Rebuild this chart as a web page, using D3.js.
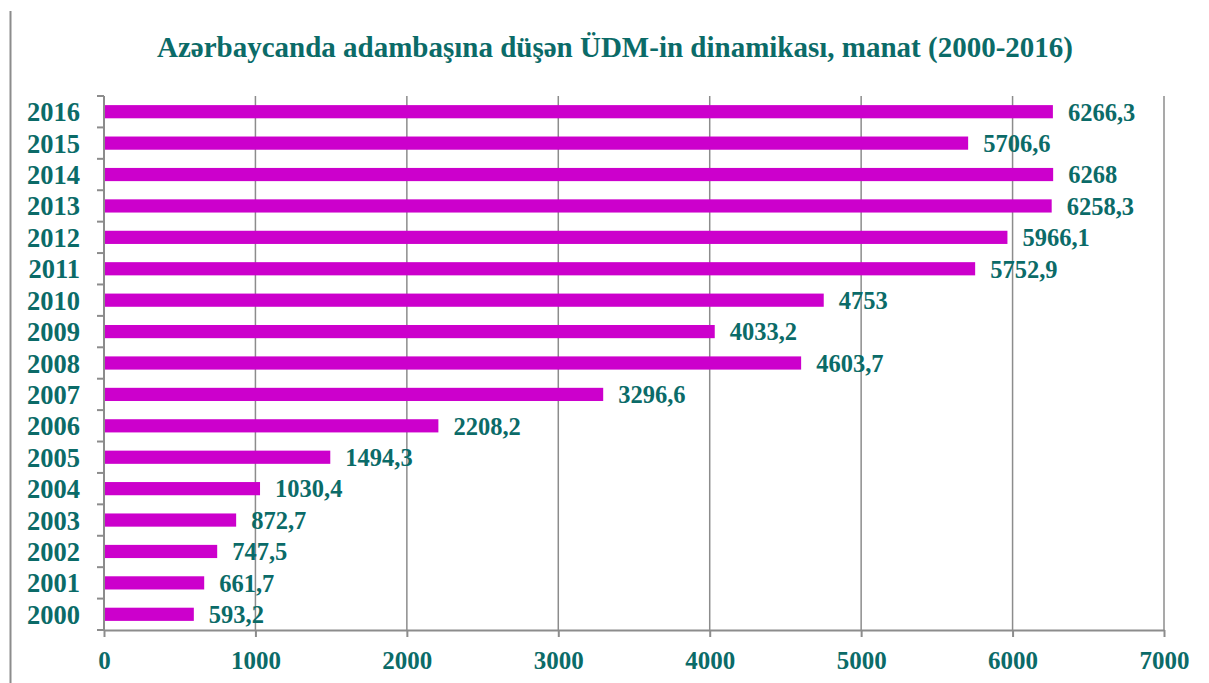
<!DOCTYPE html>
<html>
<head>
<meta charset="utf-8">
<script src="https://cdn.jsdelivr.net/npm/d3@7"></script>
<style>
  body { margin: 0; background: #fff; }
  svg { display: block; }
</style>
</head>
<body>
<svg id="chart"></svg>
<script>
(function () {
    const W = 1209;
    const H = 683;
    const margin = { top: 96, right: 45, bottom: 53, left: 104 };

    const years = ["2000", "2001", "2002", "2003", "2004", "2005", "2006", "2007", "2008",
                   "2009", "2010", "2011", "2012", "2013", "2014", "2015", "2016"];
    const gdpPerCapita = [593.2, 661.7, 747.5, 872.7, 1030.4, 1494.3, 2208.2, 3296.6, 4603.7,
                          4033.2, 4753, 5752.9, 5966.1, 6258.3, 6268, 5706.6, 6266.3];
    const xTicks = [0, 1000, 2000, 3000, 4000, 5000, 6000, 7000];
    const title = "Azərbaycanda adambaşına düşən ÜDM-in dinamikası, manat (2000-2016)";

    const teal = "#0b6b68";
    const grey = "#8c8c8c";
    const serif = "'Liberation Serif', 'Times New Roman', serif";

    const data = years.map((y, i) => ({ year: y, value: gdpPerCapita[i] }));

    const svg = d3.select("#chart")
        .attr("width", W)
        .attr("height", H);

    // outer frame edge on the left
    svg.append("line")
        .attr("x1", 10.5).attr("x2", 10.5)
        .attr("y1", 11).attr("y2", H)
        .attr("stroke", grey)
        .attr("stroke-width", 2);

    const x = d3.scaleLinear()
        .domain([0, 7000])
        .range([margin.left, W - margin.right]);

    const y = d3.scaleBand()
        .domain(years.slice().reverse())
        .range([margin.top, H - margin.bottom])
        .paddingInner(0.58)
        .paddingOuter(0.29);

    // vertical gridlines
    svg.append("g")
        .selectAll("line")
        .data(xTicks.slice(1))
        .enter().append("line")
        .attr("x1", d => x(d)).attr("x2", d => x(d))
        .attr("y1", margin.top).attr("y2", H - margin.bottom)
        .attr("stroke", grey)
        .attr("stroke-width", 1.5);

    // bars
    svg.append("g")
        .selectAll("rect")
        .data(data)
        .enter().append("rect")
        .attr("x", x(0))
        .attr("y", d => y(d.year))
        .attr("width", d => x(d.value) - x(0))
        .attr("height", y.bandwidth())
        .attr("fill", "#cc00cc");

    // value labels
    svg.append("g")
        .selectAll("text")
        .data(data)
        .enter().append("text")
        .attr("x", d => x(d.value) + 15)
        .attr("y", d => y(d.year) + y.bandwidth() / 2)
        .attr("dy", "0.36em")
        .attr("font-family", serif)
        .attr("font-weight", "bold")
        .attr("font-size", 24.5)
        .attr("fill", teal)
        .text(d => String(d.value).replace(".", ","));

    // x axis
    const xAxis = svg.append("g")
        .attr("transform", `translate(0,${H - margin.bottom})`)
        .call(d3.axisBottom(x).tickValues(xTicks).tickFormat(d3.format("d"))
            .tickSize(7).tickSizeOuter(0).tickPadding(14));
    xAxis.select(".domain").attr("stroke", grey).attr("stroke-width", 2);
    xAxis.selectAll(".tick line").attr("stroke", grey).attr("stroke-width", 2);
    xAxis.selectAll("text")
        .attr("font-family", serif)
        .attr("font-weight", "bold")
        .attr("font-size", 25)
        .attr("fill", teal);

    // y axis: tick marks sit at band boundaries, labels at band centres
    const yLine = svg.append("g");
    yLine.append("line")
        .attr("x1", x(0)).attr("x2", x(0))
        .attr("y1", margin.top).attr("y2", H - margin.bottom)
        .attr("stroke", grey)
        .attr("stroke-width", 2);
    const step = y.step();
    const bounds = d3.range(years.length + 1).map(i => margin.top + i * step);
    yLine.selectAll(".yt")
        .data(bounds)
        .enter().append("line")
        .attr("class", "yt")
        .attr("x1", x(0) - 7).attr("x2", x(0))
        .attr("y1", d => d).attr("y2", d => d)
        .attr("stroke", grey)
        .attr("stroke-width", 2);

    svg.append("g")
        .selectAll("text")
        .data(years)
        .enter().append("text")
        .attr("x", 80)
        .attr("y", d => y(d) + y.bandwidth() / 2)
        .attr("dy", "0.36em")
        .attr("text-anchor", "end")
        .attr("font-family", serif)
        .attr("font-weight", "bold")
        .attr("font-size", 26.5)
        .attr("fill", teal)
        .text(d => d);

    // title
    svg.append("text")
        .attr("x", 615)
        .attr("y", 57)
        .attr("text-anchor", "middle")
        .attr("font-family", serif)
        .attr("font-weight", "bold")
        .attr("font-size", 29)
        .attr("fill", teal)
        .text(title);
})();
</script>
</body>
</html>
